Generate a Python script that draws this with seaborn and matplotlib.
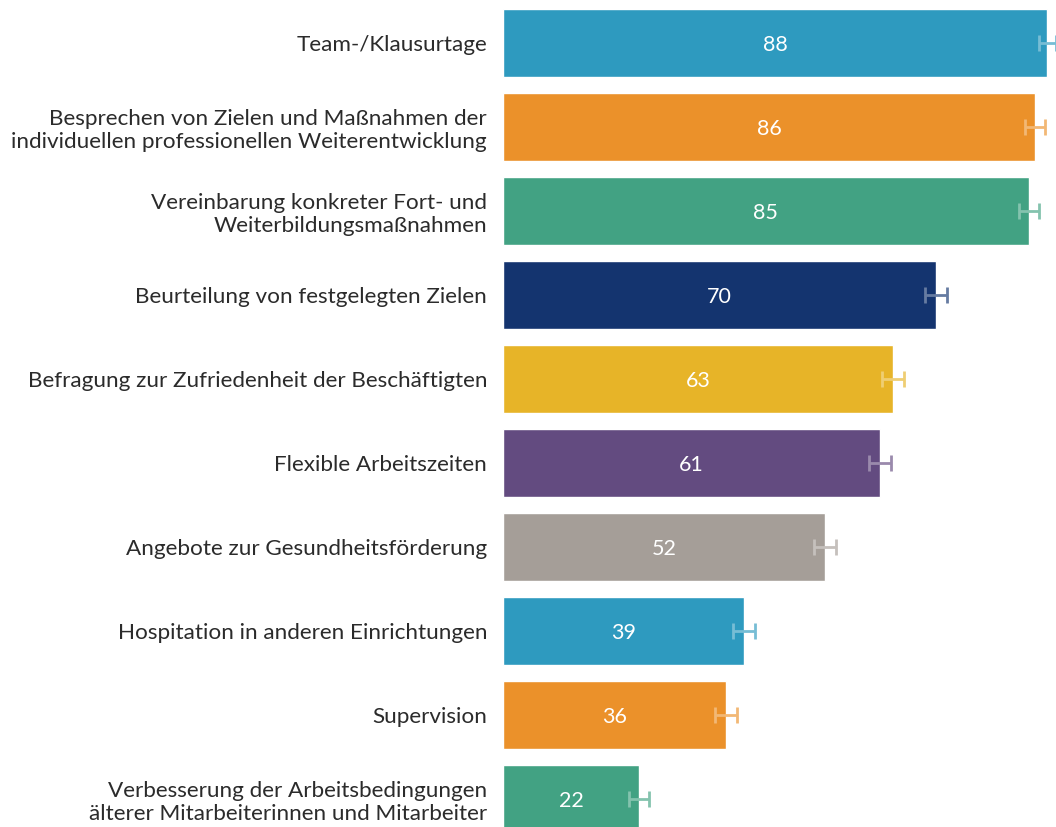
import numpy as np
import pandas as pd
import matplotlib
matplotlib.use("Agg")
import matplotlib.pyplot as plt
import matplotlib.colors as mcolors
import seaborn as sns

# data
labels = [
    "Team-/Klausurtage",
    "Besprechen von Zielen und Maßnahmen der\nindividuellen professionellen Weiterentwicklung",
    "Vereinbarung konkreter Fort- und\nWeiterbildungsmaßnahmen",
    "Beurteilung von festgelegten Zielen",
    "Befragung zur Zufriedenheit der Beschäftigten",
    "Flexible Arbeitszeiten",
    "Angebote zur Gesundheitsförderung",
    "Hospitation in anderen Einrichtungen",
    "Supervision",
    "Verbesserung der Arbeitsbedingungen\nälterer Mitarbeiterinnen und Mitarbeiter",
]
values = [88, 86, 85, 70, 63, 61, 52, 39, 36, 22]
errors = [1.4, 1.6, 1.6, 1.8, 1.8, 1.8, 1.8, 1.8, 1.8, 1.6]
colors = ["#2E9ABF", "#EB912A", "#42A283", "#14346F", "#E7B428",
          "#634B80", "#A59E98", "#2E9ABF", "#EB912A", "#42A283"]

df = pd.DataFrame({"label": labels, "value": values, "err": errors})

sns.set_theme(style="white")
plt.rcParams['font.family'] = ['Lato', 'DejaVu Sans']

fig = plt.figure(figsize=(10.56, 8.27), dpi=100)
ax = fig.add_axes([503 / 1056, 0.0, 1 - 503 / 1056, 1.0])

sns.barplot(data=df, x="value", y="label", hue="label", palette=colors,
            legend=False, width=0.81, saturation=1, ax=ax)

# error bars in a lighter tint of each bar colour
for i, (v, e, c) in enumerate(zip(values, errors, colors)):
    rgb = np.array(mcolors.to_rgb(c))
    light = rgb + (1 - rgb) * 0.35
    ax.errorbar(v, i, xerr=e, fmt="none", ecolor=light, elinewidth=2,
                capsize=6, capthick=2, zorder=3)
    ax.text(v / 2, i, str(v), ha="center", va="center_baseline",
            color="white", fontsize=15.5)

ax.set_xlim(0, 89.4)
ax.set_ylim(9.33, -0.512)
ax.set_xlabel("")
ax.set_ylabel("")
ax.set_xticks([])
ax.tick_params(axis="y", length=0, pad=11.5)
for lbl in ax.get_yticklabels():
    lbl.set_fontsize(16.2)
    lbl.set_color("#2b2b2b")
    lbl.set_multialignment("right")
sns.despine(ax=ax, left=True, bottom=True)

fig.savefig("out.png", dpi=100)
